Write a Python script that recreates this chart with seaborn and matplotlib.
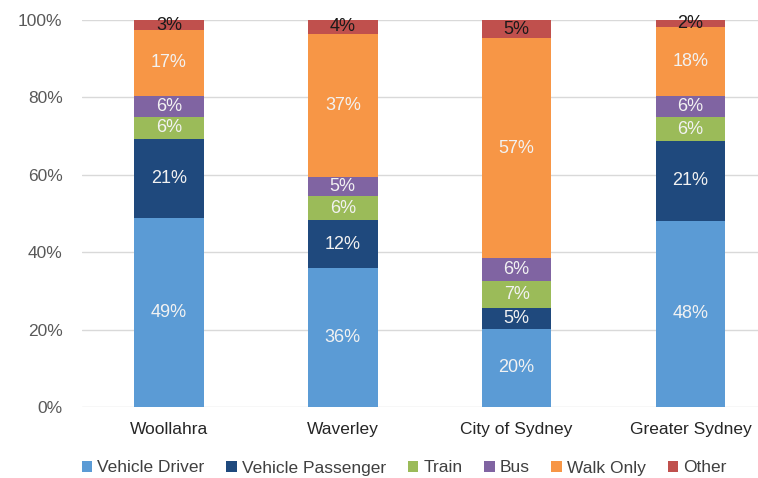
import matplotlib
matplotlib.use("Agg")
import matplotlib.pyplot as plt
from matplotlib.patches import Patch
import seaborn as sns
import numpy as np

categories = ["Woollahra", "Waverley", "City of Sydney", "Greater Sydney"]
modes = ["Vehicle Driver", "Vehicle Passenger", "Train", "Bus", "Walk Only", "Other"]
vehicle_driver = [48.8, 35.9, 20.2, 48.1]
vehicle_passenger = [20.5, 12.4, 5.4, 20.6]
train = [5.6, 6.2, 7.0, 6.2]
bus = [5.5, 4.9, 5.9, 5.5]
walk_only = [17.0, 37.0, 56.8, 17.8]
other = [2.6, 3.6, 4.7, 1.8]
labels_driver = ["49%", "36%", "20%", "48%"]
labels_passenger = ["21%", "12%", "5%", "21%"]
labels_train = ["6%", "6%", "7%", "6%"]
labels_bus = ["6%", "5%", "6%", "6%"]
labels_walk = ["17%", "37%", "57%", "18%"]
labels_other = ["3%", "4%", "5%", "2%"]

series = [vehicle_driver, vehicle_passenger, train, bus, walk_only, other]
series_labels = [labels_driver, labels_passenger, labels_train, labels_bus, labels_walk, labels_other]
colors = ["#5B9BD5", "#1F497D", "#9BBB59", "#8064A2", "#F79646", "#C0504D"]
label_colors = ["#F2F2F2"] * 5 + ["#1A1A1A"]

sns.set_theme(style="white")
plt.rcParams["font.family"] = ["Liberation Sans", "DejaVu Sans"]

fig = plt.figure(figsize=(7.58, 4.78), dpi=100)
ax = fig.add_axes([82 / 758, 71 / 478, (758 - 82) / 758, 387 / 478])

bottoms = np.zeros(len(categories))
for vals, labs, col, lc in zip(series, series_labels, colors, label_colors):
    sns.barplot(x=categories, y=vals, bottom=bottoms, color=col, width=0.4,
                ax=ax, saturation=1, zorder=3, linewidth=0)
    for i, (v, l) in enumerate(zip(vals, labs)):
        ax.text(i, bottoms[i] + v / 2, l, ha="center", va="center",
                fontsize=13, color=lc, zorder=4)
    bottoms = bottoms + np.array(vals)

ax.set_ylim(0, 100)
ax.set_xlim(-0.5, 3.388)
ax.set_yticks([0, 20, 40, 60, 80, 100])
ax.set_yticklabels([f"{t}%" for t in [0, 20, 40, 60, 80, 100]])
ax.grid(axis="y", color="#D9D9D9", linewidth=1, zorder=0)
ax.grid(axis="x", visible=False)
for s in ax.spines.values():
    s.set_visible(False)
ax.tick_params(axis="y", length=0, pad=14, labelsize=12.5, labelcolor="#595959")
ax.tick_params(axis="x", length=0, pad=11, labelsize=12.5, labelcolor="#262626")
ax.set_xlabel("")
ax.set_ylabel("")

handles = [Patch(facecolor=c, edgecolor="none", label=m) for c, m in zip(colors, modes)]
fig.legend(handles=handles, loc="center left", bbox_to_anchor=(66 / 758, 1 - 468 / 478),
           ncol=6, frameon=False, fontsize=12.5, handlelength=0.6, handleheight=0.6,
           handletextpad=0.3, columnspacing=1.25, labelcolor="#404040")

fig.savefig("out.png", dpi=100)
